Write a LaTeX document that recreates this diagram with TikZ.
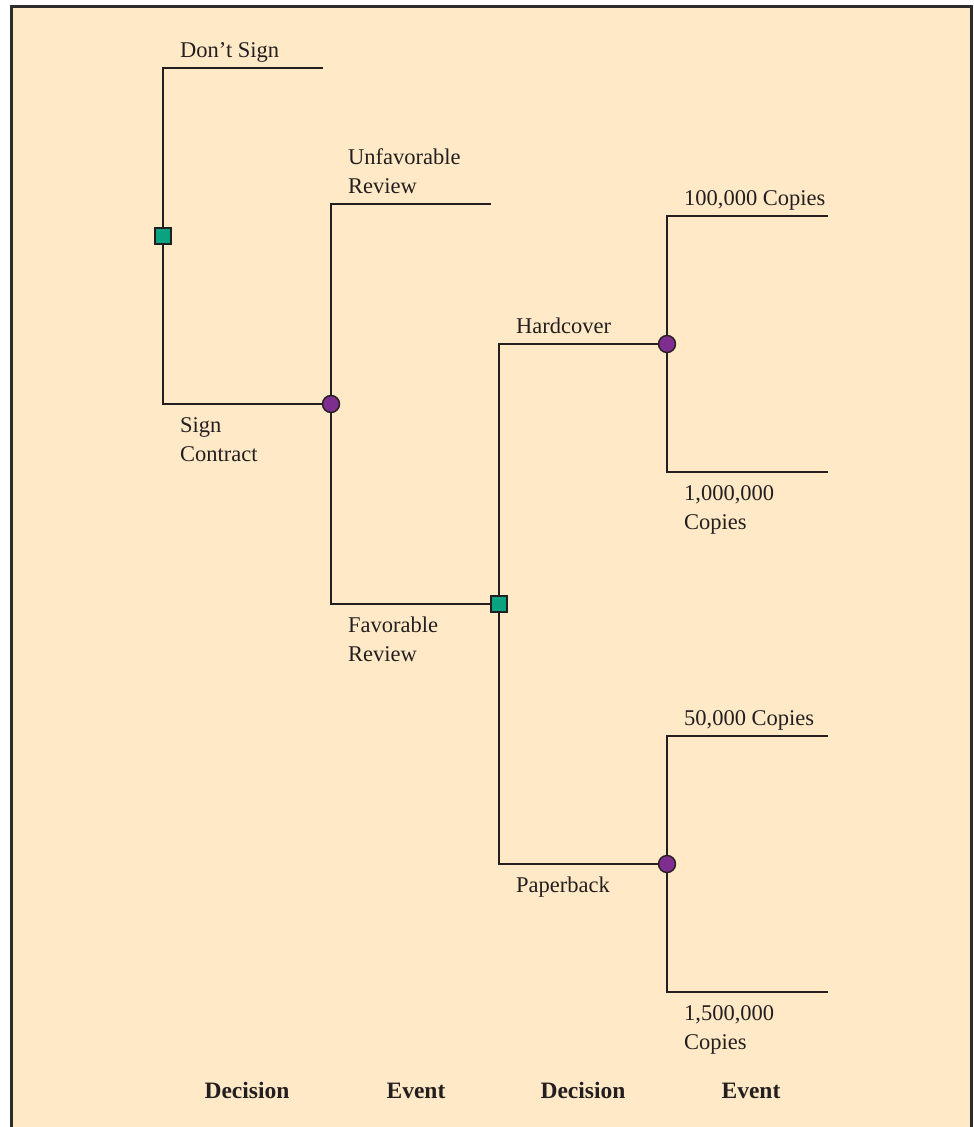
\documentclass[tikz,border=0pt]{standalone}
\usepackage{fontspec}
\setmainfont{Liberation Serif}
\definecolor{panel}{HTML}{FFE9C6}
\definecolor{framegray}{HTML}{2E2B2C}
\definecolor{ink}{HTML}{231F20}
\definecolor{choicegreen}{HTML}{0AA382}
\definecolor{chanceviolet}{HTML}{7E2E8E}
\begin{document}
\begin{tikzpicture}[x=1pt,y=-1pt,
  branch/.style={draw=ink,line width=1.4pt},
  choicenode/.style={draw=ink,fill=choicegreen,line width=1.4pt,minimum size=16pt,inner sep=0pt,shape=rectangle},
  chancenode/.style={draw=ink,fill=chanceviolet,line width=1.4pt,minimum size=17pt,inner sep=0pt,shape=circle},
  lbl/.style={anchor=base west,inner sep=0pt,align=left,text=ink,font=\fontsize{22.5}{29}\selectfont},
  stage/.style={anchor=base,inner sep=0pt,text=ink,font=\fontsize{23.5}{29}\selectfont\bfseries}]
  \useasboundingbox (0,0) rectangle (974,1127);
  \fill[white] (0,0) rectangle (974,1127);
  \begin{scope}
    \clip (0,0) rectangle (974,1127);
    \draw[framegray,line width=3pt,fill=panel] (11,6) rectangle (971,1140);
  \end{scope}

  % branch ends and corners
  \coordinate (dsC) at (163,68);   \coordinate (dsE) at (323,68);
  \coordinate (scC) at (163,404);
  \coordinate (ufC) at (331,204);  \coordinate (ufE) at (491,204);
  \coordinate (fvC) at (331,604);
  \coordinate (hcC) at (499,344);
  \coordinate (pbC) at (499,864);
  \coordinate (aC) at (667,216);   \coordinate (aE) at (828,216);
  \coordinate (bC) at (667,472);   \coordinate (bE) at (828,472);
  \coordinate (cC) at (667,736);   \coordinate (cE) at (828,736);
  \coordinate (dC) at (667,992);   \coordinate (dE) at (828,992);

  % decision and chance node positions
  \coordinate (d1p) at (163,236);
  \coordinate (e1p) at (331,404);
  \coordinate (d2p) at (499,604);
  \coordinate (e2p) at (667,344);
  \coordinate (e3p) at (667,864);

  % branches
  \draw[branch] (d1p) -- (dsC) -- (dsE);
  \draw[branch] (d1p) -- (scC) -- (e1p);
  \draw[branch] (e1p) -- (ufC) -- (ufE);
  \draw[branch] (e1p) -- (fvC) -- (d2p);
  \draw[branch] (d2p) -- (hcC) -- (e2p);
  \draw[branch] (d2p) -- (pbC) -- (e3p);
  \draw[branch] (e2p) -- (aC) -- (aE);
  \draw[branch] (e2p) -- (bC) -- (bE);
  \draw[branch] (e3p) -- (cC) -- (cE);
  \draw[branch] (e3p) -- (dC) -- (dE);

  \node[choicenode] (d1) at (d1p) {};
  \node[chancenode] (e1) at (e1p) {};
  \node[choicenode] (d2) at (d2p) {};
  \node[chancenode] (e2) at (e2p) {};
  \node[chancenode] (e3) at (e3p) {};

  % branch labels (two-line labels are placed by their last baseline)
  \node[lbl] (tDont) at (180,57) {Don’t Sign};
  \node[lbl] (tSign) at (180,461) {Sign\\Contract};
  \node[lbl] (tUnf) at (348,193) {Unfavorable\\Review};
  \node[lbl] (tFav) at (348,661) {Favorable\\Review};
  \node[lbl] (tHard) at (516,333) {Hardcover};
  \node[lbl] (tPaper) at (516,892) {Paperback};
  \node[lbl] (t100k) at (684,205) {100,000 Copies};
  \node[lbl] (t1m) at (684,529) {1,000,000\\Copies};
  \node[lbl] (t50k) at (684,725) {50,000 Copies};
  \node[lbl] (t15m) at (684,1049) {1,500,000\\Copies};

  % stage captions
  \node[stage] (s1) at (247,1098) {Decision};
  \node[stage] (s2) at (416,1098) {Event};
  \node[stage] (s3) at (583,1098) {Decision};
  \node[stage] (s4) at (751,1098) {Event};
\end{tikzpicture}
\end{document}
